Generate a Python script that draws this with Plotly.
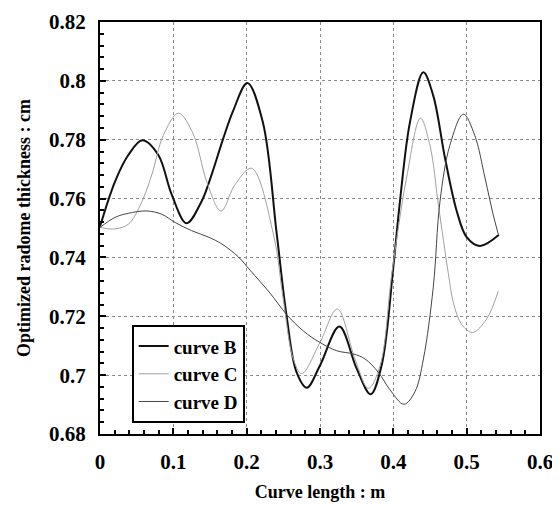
import plotly.graph_objects as go

# Curve B (thick black)
b_x = [0.0, 0.0205, 0.0386, 0.0577, 0.0795, 0.0977, 0.118, 0.1386, 0.152, 0.168, 0.1818, 0.201,
       0.222, 0.241, 0.2545, 0.268, 0.282, 0.300, 0.3264, 0.350, 0.369, 0.384, 0.400, 0.409,
       0.4227, 0.4409, 0.4545, 0.4705, 0.4864, 0.500, 0.518, 0.544]
b_y = [0.7505, 0.7658, 0.7748, 0.7798, 0.7748, 0.7614, 0.7516, 0.7591, 0.768, 0.7804, 0.790, 0.7993,
       0.786, 0.748, 0.720, 0.701, 0.6957, 0.7033, 0.7165, 0.7022, 0.6935, 0.7033, 0.7368, 0.759,
       0.786, 0.8029, 0.7949, 0.7737, 0.7558, 0.7469, 0.7439, 0.7477]

# Curve C (light grey)
c_x = [0.0, 0.0205, 0.0386, 0.0545, 0.0705, 0.0864, 0.107, 0.127, 0.1455, 0.165, 0.184, 0.2068,
       0.2364, 0.250, 0.2636, 0.275, 0.300, 0.3236, 0.3477, 0.366, 0.382, 0.398, 0.418, 0.437,
       0.450, 0.4614, 0.475, 0.482, 0.493, 0.508, 0.527, 0.543]
c_y = [0.7502, 0.7497, 0.7513, 0.7575, 0.768, 0.7815, 0.789, 0.782, 0.7658, 0.7558, 0.7647, 0.7703,
       0.748, 0.7256, 0.7055, 0.7005, 0.7111, 0.7225, 0.7055, 0.6955, 0.7033, 0.7346, 0.767, 0.7873,
       0.778, 0.758, 0.7346, 0.7245, 0.7173, 0.7145, 0.719, 0.7285]

# Curve D (dark grey)
d_x = [0.0, 0.0205, 0.0386, 0.0636, 0.084, 0.1023, 0.125, 0.148, 0.166, 0.1886, 0.2045, 0.2318,
       0.2545, 0.2773, 0.300, 0.3227, 0.3455, 0.3614, 0.3795, 0.3955, 0.4145, 0.4295, 0.441,
       0.4545, 0.4636, 0.477, 0.4955, 0.511, 0.525, 0.536, 0.543]
d_y = [0.7502, 0.7536, 0.755, 0.7558, 0.7547, 0.7519, 0.7491, 0.7469, 0.7446, 0.7402, 0.7357, 0.7279,
       0.7206, 0.715, 0.7111, 0.7083, 0.7072, 0.7055, 0.701, 0.695, 0.6901, 0.6944, 0.7055,
       0.7300, 0.759, 0.778, 0.7887, 0.7815, 0.767, 0.7547, 0.748]

x_ticks = [0, 0.1, 0.2, 0.3, 0.4, 0.5, 0.6]
x_tick_labels = ["0", "0.1", "0.2", "0.3", "0.4", "0.5", "0.6"]
y_ticks = [0.68, 0.70, 0.72, 0.74, 0.76, 0.78, 0.80, 0.82]
y_tick_labels = ["0.68", "0.7", "0.72", "0.74", "0.76", "0.78", "0.8", "0.82"]

FONT = "Liberation Serif"

fig = go.Figure()
fig.add_trace(go.Scatter(x=b_x, y=b_y, mode="lines", name="curve B",
                         line=dict(color="#111111", width=2, shape="spline", smoothing=1.0)))
fig.add_trace(go.Scatter(x=c_x, y=c_y, mode="lines", name="curve C",
                         line=dict(color="#a0a0a0", width=1, shape="spline", smoothing=1.0)))
fig.add_trace(go.Scatter(x=d_x, y=d_y, mode="lines", name="curve D",
                         line=dict(color="#444444", width=1, shape="spline", smoothing=1.0)))

axis_common = dict(
    automargin=False,
    showline=True, linecolor="black", linewidth=2, mirror=True,
    ticks="inside", ticklen=6, tickcolor="black", tickwidth=1.5,
    showgrid=True, gridcolor="#8a8a8a", gridwidth=1, griddash="dot",
    zeroline=False, ticklabeloverflow="allow",
    tickfont=dict(family=FONT, size=21, color="black", weight="bold"),
)

fig.update_xaxes(
    range=[0, 0.6], tickvals=x_ticks, ticktext=x_tick_labels,
    minor=dict(dtick=0.02, ticks="inside", ticklen=4, tickcolor="black", showgrid=False),
    ticklabelstandoff=8,
    title=dict(text="Curve length : m", font=dict(family=FONT, size=18, color="black", weight="bold"),
               standoff=12),
    **axis_common,
)
fig.update_yaxes(
    range=[0.68, 0.82001], tickvals=y_ticks, ticktext=y_tick_labels,
    minor=dict(dtick=0.004, ticks="inside", ticklen=4, tickcolor="black", showgrid=False),
    ticklabelstandoff=8,
    title=dict(text="Optimized radome thickness : cm", font=dict(family=FONT, size=18, color="black", weight="bold"),
               standoff=14),
    **axis_common,
)

# The page body adds an 8px margin, so the figure is drawn 8px smaller and offset.
fig.update_layout(
    width=552, height=497,
    margin=dict(l=92, r=20, t=14, b=71),
    paper_bgcolor="white", plot_bgcolor="white",
    showlegend=True,
    legend=dict(x=0.072, y=0.264, xanchor="left", yanchor="top",
                bgcolor="white", bordercolor="black", borderwidth=2,
                font=dict(family=FONT, size=19, color="black", weight="bold"),
                tracegroupgap=0, itemwidth=30),
)

fig.write_html("out.html")
